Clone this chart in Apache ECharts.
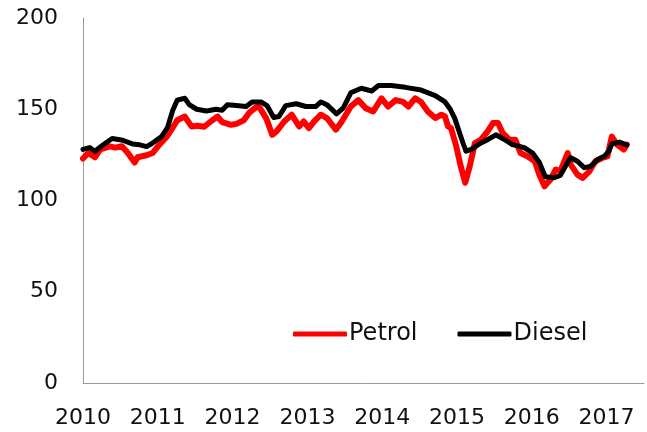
<!DOCTYPE html>
<html>
<head>
<meta charset="utf-8">
<script src="https://cdn.jsdelivr.net/npm/echarts@6/dist/echarts.min.js"></script>
<style>
html,body{margin:0;padding:0;background:#fff;}
#chart{width:647px;height:432px;}
</style>
</head>
<body>
<div id="chart"></div>
<script>
// Decimal-year positions and index values
var petrolYears = [2010.00,2010.07,2010.16,2010.23,2010.36,2010.43,2010.52,2010.60,2010.69,2010.73,2010.85,2010.93,2011.02,2011.12,2011.20,2011.26,2011.36,2011.45,2011.53,2011.62,2011.72,2011.80,2011.86,2011.98,2012.05,2012.15,2012.22,2012.31,2012.35,2012.39,2012.45,2012.53,2012.59,2012.69,2012.79,2012.89,2012.95,2013.02,2013.09,2013.18,2013.26,2013.38,2013.46,2013.58,2013.68,2013.78,2013.88,2013.99,2014.08,2014.18,2014.28,2014.35,2014.44,2014.52,2014.61,2014.71,2014.79,2014.84,2014.88,2014.92,2014.99,2015.05,2015.11,2015.17,2015.24,2015.32,2015.41,2015.48,2015.55,2015.61,2015.70,2015.78,2015.85,2015.94,2016.04,2016.10,2016.17,2016.25,2016.32,2016.38,2016.48,2016.52,2016.61,2016.68,2016.77,2016.85,2016.94,2017.01,2017.07,2017.14,2017.23,2017.27];
var petrolValues = [123,126,123.7,128,129.7,129,129.7,126,120.8,123.7,124.8,126,130.6,135,140,144,146,140.6,141,140.4,143.7,146,143,141.5,142,144,148,151,151.5,149,145,136,138,143.3,147,140.6,143.3,139.7,143.3,147,145.2,138.8,143.3,151.5,155,150.6,148.8,156,151.5,155,154,151.5,156,154,148.8,145.2,147,146,140.6,139.7,129.7,118.7,109.7,118.7,131.5,133.3,137.9,142.4,142.4,137,133.3,133.3,126,124.2,121.5,114.2,107.8,111.5,117,116,126,119.7,114.2,112.4,116,121.5,123.3,124.2,135,130.6,127.9,130.6];

var dieselYears = [2010.00,2010.09,2010.16,2010.27,2010.39,2010.53,2010.66,2010.76,2010.85,2010.93,2011.05,2011.13,2011.20,2011.26,2011.36,2011.42,2011.52,2011.65,2011.78,2011.86,2011.93,2012.05,2012.18,2012.26,2012.38,2012.46,2012.55,2012.62,2012.71,2012.85,2012.98,2013.11,2013.18,2013.26,2013.39,2013.48,2013.58,2013.72,2013.86,2013.95,2014.12,2014.31,2014.52,2014.71,2014.84,2014.91,2014.97,2015.08,2015.12,2015.19,2015.32,2015.41,2015.52,2015.64,2015.74,2015.90,2016.01,2016.10,2016.18,2016.30,2016.38,2016.45,2016.52,2016.61,2016.70,2016.78,2016.88,2016.97,2017.03,2017.07,2017.17,2017.27];
var dieselValues = [128,129,127,130.5,134,133,131,130.5,129.5,131.5,135,140,149.5,155,156,152.5,150,149,150,149.5,152.5,152,151.5,154,154,152,145.5,146,152,153,151.5,151.5,154,152.5,147.5,150.8,159,161.5,160,163,163,162,160.5,157.5,154,150,145,131.5,127,128,131.5,133.3,136,133.3,130.6,129,126,121,113,112.5,113.7,118.7,123.5,121.5,118,118.6,122.4,124.2,127,131,132,130.5];

var yearTicks = [2010,2011,2012,2013,2014,2015,2016,2017];
var seriesNames = ['Petrol','Diesel'];

function pairs(xs, ys){ return xs.map(function(x,i){ return [x, ys[i]]; }); }

var font = 'DejaVu Sans';
var chart = echarts.init(document.getElementById('chart'), null, {renderer:'canvas'});
chart.setOption({
  animation:false,
  backgroundColor:'#ffffff',
  textStyle:{fontFamily:font},
  grid:{left:83,top:18,right:0,bottom:49,containLabel:false},
  legend:{
    data:seriesNames,
    left:288, top:317,
    itemWidth:54, itemHeight:5, itemGap:40,
    icon:'roundRect',
    textStyle:{fontFamily:font,fontSize:24,color:'#111',padding:[0,0,0,-3]}
  },
  xAxis:{
    type:'value', min:yearTicks[0], max:2017.5, interval:1,
    axisLine:{show:true,lineStyle:{color:'#9a9a9a',width:1}},
    axisTick:{show:false},
    splitLine:{show:false},
    axisLabel:{
      fontFamily:font,fontSize:22,color:'#111',margin:24,
      formatter:function(v){ return yearTicks.indexOf(v)>=0 ? String(v) : ''; }
    }
  },
  yAxis:{
    type:'value', min:0, max:200, interval:50,
    axisLine:{show:true,lineStyle:{color:'#9a9a9a',width:1}},
    axisTick:{show:false},
    splitLine:{show:false},
    axisLabel:{fontFamily:font,fontSize:22,color:'#111',margin:25}
  },
  series:[
    {name:seriesNames[0],type:'line',showSymbol:false,symbol:'none',
     data:pairs(petrolYears,petrolValues),
     itemStyle:{color:'#ff0000'},
     lineStyle:{color:'#ff0000',width:6,cap:'round',join:'round'}},
    {name:seriesNames[1],type:'line',showSymbol:false,symbol:'none',
     data:pairs(dieselYears,dieselValues),
     itemStyle:{color:'#000000'},
     lineStyle:{color:'#000000',width:5,cap:'round',join:'round'}}
  ]
});
</script>
</body>
</html>
